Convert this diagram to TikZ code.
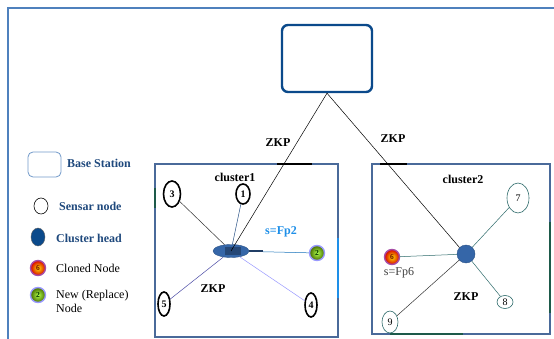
\documentclass[tikz,border=0pt]{standalone}
\usepackage{fontspec}
\setmainfont{Liberation Serif}
\usetikzlibrary{shapes.geometric}
\definecolor{frameblue}{HTML}{4F81BD}
\definecolor{bsblue}{HTML}{0B4A8B}
\definecolor{clbox}{HTML}{4A6A9A}
\definecolor{legtxt}{HTML}{1F497D}
\definecolor{tealline}{HTML}{2E6B6B}
\definecolor{fpblue}{HTML}{1E8FE8}
\definecolor{headblue}{HTML}{3566A8}
\definecolor{darkgreen}{HTML}{1D5A4A}
\begin{document}
\begin{tikzpicture}[x=1pt,y=-1pt,
  every node/.style={font=\fontsize{12}{14}\selectfont},
  bold sensor/.style={ellipse,draw=black,line width=1.6pt,inner sep=0pt,font=\fontsize{10}{11}\selectfont\bfseries},
  thin sensor/.style={ellipse,draw=tealline,line width=0.6pt,inner sep=0pt,font=\fontsize{10}{11}\selectfont},
  cluster box/.style={draw=clbox,line width=1.6pt,fill=white},
  cloned/.style={circle,inner sep=0pt,minimum size=15pt,shading=radial,inner color=yellow!80!orange,outer color=red!85!black,draw=violet!70,line width=1.4pt,font=\fontsize{7.5}{8}\selectfont\bfseries,text=red!40!black},
  newnode/.style={circle,inner sep=0pt,minimum size=15pt,shading=radial,inner color=green!45!yellow!70,outer color=olive!80!green!70!black,draw=blue!40,line width=1.4pt,font=\fontsize{7.5}{8}\selectfont\bfseries,text=green!20!black},
  head/.style={ellipse,fill=headblue,draw=headblue!80!black,line width=0.4pt,inner sep=0pt},
  link/.style={line width=0.5pt},
  boldlbl/.style={inner sep=1pt,font=\fontsize{12}{14}\selectfont\bfseries},
  legend text/.style={anchor=west,inner sep=0pt,text=legtxt,font=\fontsize{12}{14}\selectfont\bfseries}
]
\useasboundingbox (0,0) rectangle (554,339);
\clip (0,0) rectangle (554,339);
\fill[white] (0,0) rectangle (554,339);
% outer frame
\draw[frameblue,line width=1.3pt] (8,345) -- (8,8) -- (600,8);

% cluster boxes
\draw[cluster box] (155,164) rectangle (338,337);
\draw[cluster box] (372,164) rectangle (550,334);
% marks on the cluster boxes
\draw[black,line width=1.4pt] (277,164) -- (312,164);
\draw[black,line width=1.4pt] (380,164) -- (407,164);
\draw[fpblue,line width=1.6pt] (338,238) -- (338,298);
\draw[darkgreen,line width=1.2pt] (155,188) -- (155,208);
\draw[darkgreen,line width=1.8pt] (550,222) -- (550,313);
\draw[darkgreen,line width=1.8pt] (390,334) -- (463,334);

% base station
\node[draw=bsblue,line width=2.4pt,rounded corners=6pt,minimum width=90pt,minimum height=67pt,inner sep=0pt] (bs) at (327,58.5) {};

% cluster 1
\node[boldlbl] (c1lbl) at (235,177) {cluster1};
\node[head,minimum width=36pt,minimum height=13pt] (ch1) at (231,251) {};
\fill[headblue!70!black] (225,247) rectangle (241,255);
\node[bold sensor,minimum width=17pt,minimum height=26pt] (n3) at (172,194) {3};
\node[bold sensor,minimum width=14pt,minimum height=20pt] (n1) at (243,194) {1};
\node[bold sensor,minimum width=12pt,minimum height=24pt] (n5) at (164,304) {5};
\node[bold sensor,minimum width=12pt,minimum height=24pt] (n4) at (311,305) {4};
\node[newnode] (n2) at (317,253) {2};
\node[boldlbl,text=fpblue] (fp2) at (281,232) {s=Fp2};
\node[boldlbl] (zkp1) at (213,289) {ZKP};

% cluster 2
\node[boldlbl] (c2lbl) at (463,179) {cluster2};
\node[head,circle,minimum size=18pt] (ch2) at (466,254) {};
\node[thin sensor,minimum width=22pt,minimum height=30pt] (n7) at (518,198) {7};
\node[thin sensor,minimum width=16pt,minimum height=13pt] (n8) at (505,302) {8};
\node[thin sensor,minimum width=16pt,minimum height=22pt] (n9) at (390,322) {9};
\node[cloned] (n6) at (392,257) {6};
\node[inner sep=1pt,text=black!75] (fp6) at (399,273) {s=Fp6};
\node[boldlbl] (zkp2) at (466,297) {ZKP};

% links from base station
\draw[link] (bs.south) -- (ch1.center);
\draw[link] (bs.south) -- (ch2.north west);
\node[boldlbl] (zkpa) at (278,143) {ZKP};
\node[boldlbl] (zkpb) at (393,139) {ZKP};

% cluster 1 links
\draw[link,black!80] (n3) -- (ch1);
\draw[link,headblue!80!black] (n1) -- (ch1);
\draw[link,fpblue!80!black] (ch1) -- (n2);
\draw[line width=1.4pt,headblue!60!black] (ch1.east) -- ++(14,0);
\draw[link,black!50!blue!70] (ch1) -- (n5);
\draw[link,blue!40] (ch1) -- (n4);

% cluster 2 links
\draw[link,tealline] (n6) -- (ch2);
\draw[link,tealline] (n7) -- (ch2);
\draw[link,tealline] (ch2) -- (n8);
\draw[link,black!80] (ch2) -- (n9);

% legend
\node[draw=frameblue!80,line width=0.8pt,rounded corners=5pt,minimum width=33pt,minimum height=25pt,inner sep=0pt] (lbs) at (44.5,164.5) {};
\node[legend text] (lbstxt) at (67,163) {Base Station};
\node[ellipse,draw=black,line width=0.6pt,minimum width=14pt,minimum height=16pt,inner sep=0pt] (lsn) at (41,206) {};
\node[legend text] (lsntxt) at (59,206) {Sensar node};
\node[ellipse,fill=bsblue,draw=black!60,line width=0.4pt,minimum width=14pt,minimum height=18pt,inner sep=0pt] (lch) at (38,237) {};
\node[legend text] (lchtxt) at (56,238) {Cluster head};
\node[cloned] (lcl) at (38,268) {6};
\node[anchor=west,inner sep=0pt] (lcltxt) at (56,268) {Cloned Node};
\node[newnode] (lnw) at (38,295) {2};
\node[anchor=north west,inner sep=0pt,align=left] (lnwtxt) at (56,290) {New (Replace)\\Node};
\end{tikzpicture}
\end{document}
